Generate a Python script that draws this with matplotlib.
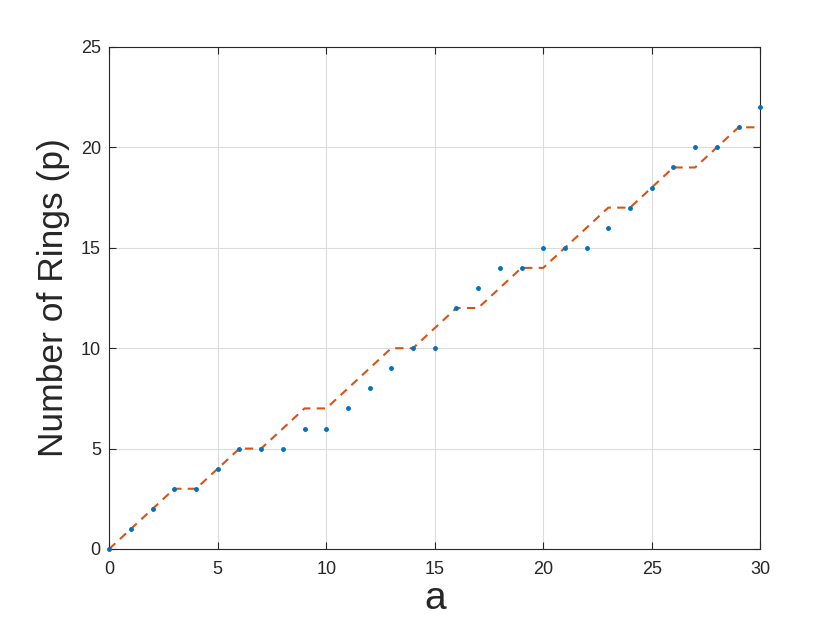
import matplotlib
matplotlib.use("Agg")
import matplotlib.pyplot as plt

a = list(range(31))
rings_obs = [0, 1, 2, 3, 3, 4, 5, 5, 5, 6, 6, 7, 8, 9, 10, 10, 12, 13, 14, 14,
             15, 15, 15, 16, 17, 18, 19, 20, 20, 21, 22]
rings_fit = [0, 1, 2, 3, 3, 4, 5, 5, 6, 7, 7, 8, 9, 10, 10, 11, 12, 12, 13, 14,
             14, 15, 16, 17, 17, 18, 19, 19, 20, 21, 21]
x_ticks = [0, 5, 10, 15, 20, 25, 30]
y_ticks = [0, 5, 10, 15, 20, 25]

plt.rcParams["font.family"] = ["Liberation Sans", "DejaVu Sans"]

fig = plt.figure(figsize=(8.4, 6.3), dpi=100)
ax = fig.add_axes([0.130, 0.1286, 0.775, 0.7968])

ax.plot(a, rings_fit, "--", color="#D95319", linewidth=1.5, dashes=(4, 3), zorder=2)
ax.plot(a, rings_obs, ".", color="#0072BD", markersize=5, zorder=3, clip_on=False)

ax.set_xlim(0, 30)
ax.set_ylim(0, 25)
ax.set_xticks(x_ticks)
ax.set_yticks(y_ticks)
ax.tick_params(direction="in", top=True, right=True, labelsize=13,
               length=5, width=0.8, colors="#262626")
ax.tick_params(axis="x", pad=9)
ax.tick_params(axis="y", pad=6)
ax.grid(True, color="#DCDCDC", linewidth=0.8)
ax.set_axisbelow(True)
for s in ax.spines.values():
    s.set_color("#262626")
    s.set_linewidth(0.8)

ax.set_xlabel("a", fontsize=28, color="#262626", labelpad=2)
ax.set_ylabel("Number of Rings (p)", fontsize=25.5, color="#262626", labelpad=8)

fig.savefig("out.png", dpi=100)
